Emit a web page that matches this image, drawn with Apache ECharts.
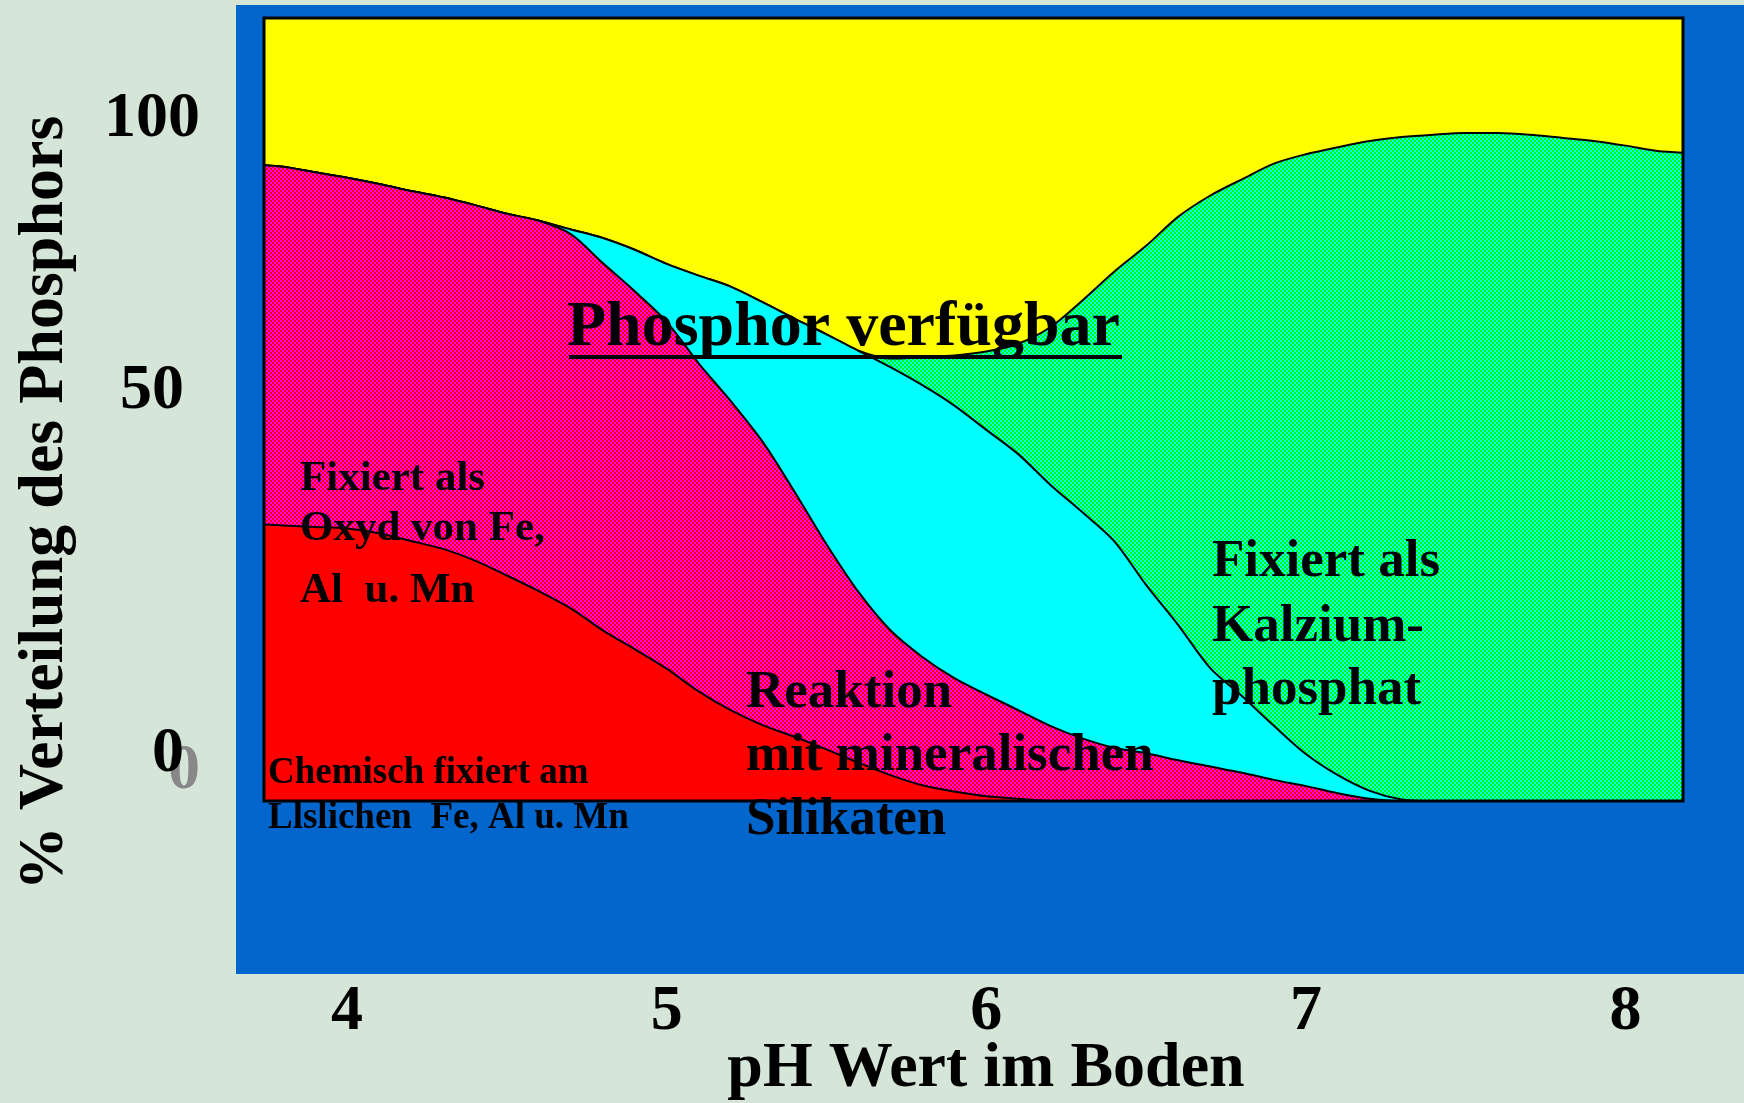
<!DOCTYPE html>
<html>
<head>
<meta charset="utf-8">
<script src="https://cdn.jsdelivr.net/npm/echarts@6.0.0/dist/echarts.min.js"></script>
<style>
  html, body { margin: 0; padding: 0; background: #d5e6d8; }
  #chart { width: 1744px; height: 1103px; }
</style>
</head>
<body>
<div id="chart"></div>
<script>
// pH-Werte (x) und obere Grenzen der Bereiche in %
const phValues = [3.74, 3.8, 3.9, 4.0, 4.1, 4.2, 4.3, 4.4, 4.5, 4.6, 4.7, 4.8, 4.9,
  5.0, 5.1, 5.2, 5.3, 5.4, 5.5, 5.6, 5.7, 5.8, 5.9, 6.0, 6.1, 6.2, 6.3, 6.4, 6.5,
  6.6, 6.7, 6.8, 6.9, 7.0, 7.1, 7.2, 7.3, 7.4, 7.5, 7.6, 7.7, 7.8, 7.9, 8.0, 8.1, 8.18];

// Chemisch fixiert (rot)
const redTop = [35.3, 35.2, 35.0, 34.8, 34.2, 33.2, 32.2, 30.7, 28.8, 26.8, 24.6, 21.8, 19.4,
  16.9, 14.0, 11.6, 9.7, 8.2, 6.6, 4.9, 3.3, 2.0, 1.2, 0.6, 0.3, 0, 0, 0, 0,
  0, 0, 0, 0, 0, 0, 0, 0, 0, 0, 0, 0, 0, 0, 0, 0, 0];

// Fixiert als Oxyd (magenta)
const magentaTop = [81.2, 81.0, 80.3, 79.6, 78.8, 77.9, 77.1, 76.1, 75.0, 74.1, 72.4, 68.7, 65.1,
  61.2, 55.9, 51.1, 45.9, 39.5, 32.8, 26.7, 21.8, 18.4, 15.7, 13.6, 11.6, 9.6, 8.0, 6.8, 6.1,
  5.2, 4.4, 3.6, 2.7, 1.9, 1.0, 0.3, 0, 0, 0, 0, 0, 0, 0, 0, 0, 0];

// Reaktion mit Silikaten (cyan)
const cyanTop = [81.2, 81.0, 80.3, 79.6, 78.8, 77.9, 77.1, 76.1, 75.0, 74.1, 73.0, 71.9, 70.4,
  68.6, 67.1, 65.7, 63.7, 61.6, 59.6, 57.5, 55.4, 53.1, 50.5, 47.4, 44.3, 40.4, 36.9, 33.2, 27.6,
  22.5, 17.0, 13.4, 9.6, 6.0, 3.3, 1.3, 0.2, 0, 0, 0, 0, 0, 0, 0, 0, 0];

// Kalziumphosphat (gruen)
const greenTop = [81.2, 81.0, 80.3, 79.6, 78.8, 77.9, 77.1, 76.1, 75.0, 74.1, 73.0, 71.9, 70.4,
  68.6, 67.1, 65.7, 63.7, 61.6, 59.6, 57.5, 56.5, 56.7, 56.9, 57.4, 58.4, 60.5, 63.9, 67.6, 70.9,
  74.6, 77.3, 79.4, 81.4, 82.6, 83.5, 84.3, 84.8, 85.1, 85.3, 85.3, 85.1, 84.7, 84.3, 83.7, 83.0, 82.8];

const xTicks = [4, 5, 6, 7, 8];

// Rasterfuellung wie im Original
function checker(c1, c2) {
  const cv = document.createElement('canvas');
  cv.width = 4;
  cv.height = 4;
  const ctx = cv.getContext('2d');
  ctx.fillStyle = c1;
  ctx.fillRect(0, 0, 4, 4);
  ctx.fillStyle = c2;
  ctx.fillRect(0, 0, 2, 2);
  ctx.fillRect(2, 2, 2, 2);
  return { image: cv, repeat: 'repeat' };
}

const serif = 'Liberation Serif';

function txt(text, x, y, size, extra) {
  return {
    type: 'text', x: x, y: y, z: 100,
    style: Object.assign({
      text: text, fontSize: size, fontFamily: serif, fontWeight: 'bold',
      fill: '#000', align: 'left', verticalAlign: 'middle'
    }, extra || {})
  };
}
const glow = { textShadowColor: '#fff', textShadowOffsetX: 2, textShadowOffsetY: 2, textShadowBlur: 0 };

function area(name, values, fill, z) {
  return {
    name: name,
    type: 'line',
    data: phValues.map((p, i) => [p, values[i]]),
    symbol: 'none',
    smooth: 0.3,
    z: z,
    lineStyle: { color: '#000', width: 2 },
    areaStyle: { color: fill, opacity: 1 }
  };
}

const yTitle = txt('% Verteilung des Phosphors', 45, 503, 64, Object.assign({ align: 'center' }, glow));
yTitle.rotation = Math.PI / 2;

const chart = echarts.init(document.getElementById('chart'));

chart.setOption({
  animation: false,
  backgroundColor: '#d5e6d8',
  grid: {
    left: 264, top: 18, width: 1419, height: 783,
    outerBoundsMode: 'none',
    show: true, backgroundColor: '#ffff00', borderWidth: 0
  },
  xAxis: {
    type: 'value', min: 3.74, max: 8.18,
    axisLine: { show: false }, axisTick: { show: false }, splitLine: { show: false },
    axisLabel: {
      customValues: xTicks, margin: 179,
      fontSize: 64, fontFamily: serif, fontWeight: 'bold', color: '#000',
      textShadowColor: '#fff', textShadowOffsetX: 2, textShadowOffsetY: 2
    },
    name: 'pH Wert im Boden', nameLocation: 'middle', nameGap: 236,
    nameMoveOverlap: false,
    nameTextStyle: {
      fontSize: 64, fontFamily: serif, fontWeight: 'bold', color: '#000',
      padding: [0, 0, 0, 25],
      textShadowColor: '#fff', textShadowOffsetX: 2, textShadowOffsetY: 2
    }
  },
  yAxis: {
    type: 'value', min: 0, max: 100, show: false
  },
  graphic: [
    { type: 'rect', z: -10, shape: { x: 236, y: 5, width: 1508, height: 969 }, style: { fill: '#0366cc' } },
    { type: 'rect', z: 90, shape: { x: 264, y: 18, width: 1419, height: 783 }, style: { fill: 'none', stroke: '#000', lineWidth: 3 } },

    yTitle,

    txt('100', 200, 119, 64, Object.assign({ align: 'right' }, glow)),
    txt('50', 184, 391, 64, Object.assign({ align: 'right' }, glow)),
    txt('0', 200, 771, 64, { align: 'right', fill: '#888' }),
    txt('0', 184, 754, 64, Object.assign({ align: 'right' }, glow)),

    txt('Phosphor verfügbar', 567, 328, 64),
    { type: 'line', z: 100, shape: { x1: 569, y1: 357, x2: 1122, y2: 357 }, style: { stroke: '#000', lineWidth: 4 } },

    txt('Fixiert als', 300, 479, 43),
    txt('Oxyd von Fe,', 300, 529, 43),
    txt('Al  u. Mn', 300, 591, 43),

    txt('Chemisch fixiert am', 268, 773, 37),
    txt('Llslichen  Fe, Al u. Mn', 268, 818, 37),

    txt('Reaktion', 746, 693, 53),
    txt('mit mineralischen', 746, 756, 53),
    txt('Silikaten', 746, 820, 53),

    txt('Fixiert als', 1212, 562, 53),
    txt('Kalzium-', 1212, 627, 53),
    txt('phosphat', 1212, 690, 53)
  ],
  series: [
    area('Kalziumphosphat', greenTop, checker('#00ff00', '#00ffff'), 2),
    area('Silikate', cyanTop, '#00ffff', 3),
    area('Oxyde', magentaTop, checker('#ff0000', '#ff00ff'), 4),
    area('Chemisch fixiert', redTop, '#ff0000', 5)
  ]
});
</script>
</body>
</html>
